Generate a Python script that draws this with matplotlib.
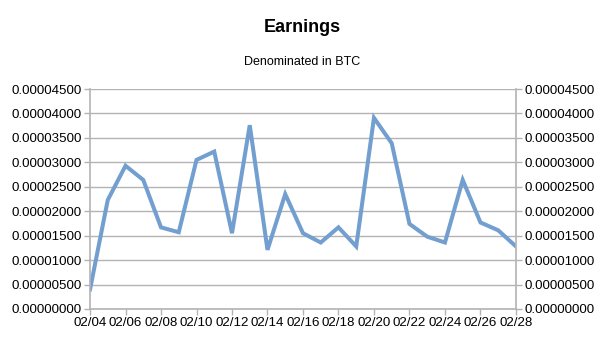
import numpy as np
import pandas as pd
import matplotlib
matplotlib.use("Agg")
import matplotlib.pyplot as plt
from matplotlib.ticker import MultipleLocator, FormatStrFormatter

plt.rcParams['font.family'] = ['Liberation Sans', 'DejaVu Sans']

# daily earnings, Feb 4 - Feb 28
days = pd.date_range("2024-02-04", "2024-02-28", freq="D")
earnings = np.array([
    4.0, 22.3, 29.3, 26.4, 16.7, 15.7, 30.5, 32.2, 15.5, 37.6,
    12.1, 23.5, 15.5, 13.6, 16.7, 12.8, 39.1, 33.9, 17.4, 14.8,
    13.6, 26.4, 17.7, 16.1, 12.8,
]) * 1e-6

tick_days = days[::2]
tick_labels = [d.strftime("%m/%d") for d in tick_days]

grey = "#b3b3b3"

fig = plt.figure(figsize=(6.05, 3.4), dpi=100)
ax = fig.add_axes([0.1488, 0.0912, 0.704, 0.647])

x = np.arange(len(days))
ax.plot(x, earnings, color="#729fcf", lw=2.9, solid_joinstyle="miter")

ax.set_xlim(0, len(days) - 1)
ax.set_ylim(0, 0.000045)
ax.set_xticks(x[::2])
ax.set_xticklabels(tick_labels)
ax.yaxis.set_major_locator(MultipleLocator(0.000005))
ax.yaxis.set_major_formatter(FormatStrFormatter("%.8f"))
ax.grid(axis="y", color=grey, lw=1)
ax.set_axisbelow(True)

for side in ["left", "right", "bottom"]:
    ax.spines[side].set_color(grey)
    ax.spines[side].set_linewidth(1.2)
ax.spines["top"].set_visible(False)
ax.tick_params(axis="both", color=grey, length=4, width=1, labelsize=9.6, pad=2)
ax.tick_params(axis="y", left=True, right=True, labelleft=True, labelright=True)

fig.text(0.5, 0.92, "Earnings", ha="center", va="center", fontsize=13, fontweight="bold")
fig.text(0.5, 0.818, "Denominated in BTC", ha="center", va="center", fontsize=9)

fig.savefig("out.png", dpi=100, facecolor="white")
